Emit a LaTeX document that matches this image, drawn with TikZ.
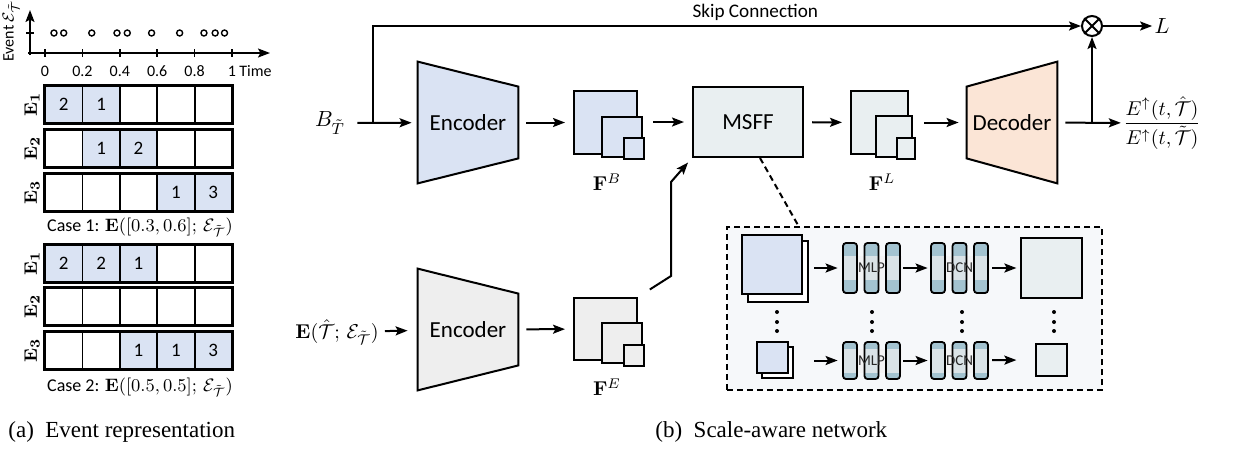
\documentclass[tikz,border=0pt]{standalone}
\usepackage{amsmath}
\usepackage{amssymb}
\usepackage[no-math]{fontspec}
\setmainfont{Carlito}
\newfontfamily\capfont{Liberation Serif}
\usetikzlibrary{arrows.meta,backgrounds,positioning}

\definecolor{encblue}{HTML}{DAE3F3}
\definecolor{encgray}{HTML}{EEEEEE}
\definecolor{decpeach}{HTML}{FBE5D6}
\definecolor{fusecyan}{HTML}{E9EFF1}
\definecolor{barteal}{HTML}{A3C3D0}
\definecolor{zoombg}{HTML}{F6F8FA}

\tikzset{
  arr/.style={-{Stealth[length=6pt,width=4.5pt,inset=1.2pt]}, line width=1pt},
  gap/.style={shorten <=#1, shorten >=#1},
  gap/.default=4pt,
  fmap/.style={draw, line width=1pt, inner sep=0pt},
  cell/.style={draw, line width=0.9pt, inner sep=0pt, minimum width=18.7pt,
    minimum height=18.5pt, font=\fontsize{9.5}{11}\selectfont},
  coder/.style={inner sep=0pt, font=\fontsize{11.5}{13}\selectfont},
  trap/.style={draw, line width=1pt},
  mathlab/.style={inner sep=1pt, font=\fontsize{10}{12}\selectfont},
  ticklab/.style={inner sep=0pt, font=\fontsize{8}{9}\selectfont},
  bar/.style={draw, line width=0.9pt, rounded corners=1.5pt},
  zoomdash/.style={line width=1pt, dash pattern=on 3pt off 2pt},
  caption/.style={anchor=west, inner sep=0pt, font=\capfont\fontsize{11.5}{13}\selectfont}
}

\begin{document}
\begin{tikzpicture}[x=0.5pt, y=-0.5pt]
\useasboundingbox (0,0) rectangle (1252,451);

% (a) event axis
\draw[arr, line width=0.8pt] (30,55) -- (30,10);
\draw[arr, line width=0.8pt] (28,53) -- (270,53);
\draw[line width=0.8pt] (26,33) -- (34,33);
\foreach \tm in {0,0.2,0.4,0.6,0.8,1}
  \draw[line width=0.8pt] (45+187*\tm,49) -- (45+187*\tm,57) node[ticklab, below=4pt] {\tm};
\node[ticklab, anchor=west] (timelab) at (239,71) {Time};
\node[ticklab, rotate=90] (evlab) at (11,31) {Event $\mathcal{E}_{\tilde{\mathcal{T}}}$};
\foreach \tm in {0.048,0.10,0.25,0.385,0.44,0.57,0.72,0.85,0.91,0.96}
  \draw[line width=0.7pt] (45+187*\tm,33) circle (1.5pt);

% (a) event grids
\foreach \rowy/\vals/\ei in {86/{2,1,0,0,0}/1,130/{0,1,2,0,0}/2,174/{0,0,0,1,3}/3,
                             245/{2,2,1,0,0}/1,288/{0,0,0,0,0}/2,332/{0,0,1,1,3}/3}{
  \node[rotate=90, inner sep=0pt, font=\fontsize{9.5}{11}\selectfont] (lab\rowy) at (32,\rowy+18.5) {$\mathbf{E_{\ei}}$};
  \foreach \cv [count=\ci] in \vals {
    \ifnum\cv>0
      \node[cell, fill=encblue] (c\rowy-\ci) at (45+37.4*\ci-18.7,\rowy+18.5) {\cv};
    \else
      \node[cell] (c\rowy-\ci) at (45+37.4*\ci-18.7,\rowy+18.5) {};
    \fi
  }
  \draw[line width=1.3pt] (c\rowy-1.north west) rectangle (c\rowy-5.south east);
}
\node[font=\fontsize{9}{11}\selectfont] (case1) at (140,227) {Case 1: $\mathbf{E}([0.3,0.6];\,\mathcal{E}_{\tilde{\mathcal{T}}})$};
\node[font=\fontsize{9}{11}\selectfont] (case2) at (140,387) {Case 2: $\mathbf{E}([0.5,0.5];\,\mathcal{E}_{\tilde{\mathcal{T}}})$};

% (b) top stream
\node[mathlab, font=\fontsize{11}{13}\selectfont] (inB) at (330,123) {$B_{\tilde{T}}$};
\node[coder, minimum width=50pt, minimum height=60.5pt] (encB) at (468,122.5) {Encoder};
\node[fmap, fill=encblue, minimum size=31.5pt] (fB) at (605.5,122.5) {};
\node[fmap, fill=encblue, minimum size=20pt] (fBm) at (622,136.5) {};
\node[fmap, fill=encblue, minimum width=10pt, minimum height=10.5pt] (fBs) at (634,148.5) {};
\node[mathlab] (fBlab) at (607,182) {$\mathbf{F}^B$};
\node[fmap, fill=fusecyan, minimum width=55pt, minimum height=35pt, font=\fontsize{11.5}{13}\selectfont] (msff) at (748,122) {MSFF};
\node[fmap, fill=fusecyan, minimum width=28.5pt, minimum height=31.5pt] (fL) at (879.5,122.5) {};
\node[fmap, fill=fusecyan, minimum width=18pt, minimum height=20.5pt] (fLm) at (894,136.5) {};
\node[fmap, fill=fusecyan, minimum width=9pt, minimum height=10.5pt] (fLs) at (906,148.5) {};
\node[mathlab] (fLlab) at (882,182) {$\mathbf{F}^L$};
\node[coder, minimum width=45pt, minimum height=60.5pt] (dec) at (1012,122.5) {Decoder};
\node[mathlab] (out) at (1162,123) {$\dfrac{E^{\uparrow}(t,\hat{\mathcal{T}})}{E^{\uparrow}(t,\tilde{\mathcal{T}})}$};
\node[circle, draw, line width=1pt, minimum size=10pt, inner sep=0pt] (mul) at (1092,26) {};
\draw[line width=1pt] (mul.north west) -- (mul.south east) (mul.north east) -- (mul.south west);
\node[mathlab, font=\fontsize{11}{13}\selectfont] (outL) at (1162,26) {$L$};

% (b) bottom stream
\node[mathlab] (inE) at (337,332) {$\mathbf{E}(\hat{\mathcal{T}};\,\mathcal{E}_{\tilde{\mathcal{T}}})$};
\node[coder, minimum width=50pt, minimum height=60.5pt] (encE) at (468,329.5) {Encoder};
\node[fmap, fill=encgray, minimum width=31.5pt, minimum height=31pt] (fE) at (605.5,329) {};
\node[fmap, fill=encgray, minimum size=20pt] (fEm) at (622,343) {};
\node[fmap, fill=encgray, minimum width=10pt, minimum height=10.5pt] (fEs) at (634,355.5) {};
\node[mathlab] (fElab) at (607,387) {$\mathbf{F}^E$};

\begin{scope}[on background layer]
\draw[trap, fill=encblue] (encB.north west) -- ([yshift=-12.5pt]encB.north east)
  -- ([yshift=12.5pt]encB.south east) -- (encB.south west) -- cycle;
\draw[trap, fill=encgray] (encE.north west) -- ([yshift=-12.5pt]encE.north east)
  -- ([yshift=12.5pt]encE.south east) -- (encE.south west) -- cycle;
\draw[trap, fill=decpeach] ([yshift=-12.5pt]dec.north west) -- (dec.north east)
  -- (dec.south east) -- ([yshift=12.5pt]dec.south west) -- cycle;
\end{scope}

% connectors
\coordinate (skip) at (373,123);
\coordinate (branch) at (mul |- out);
\draw[arr, shorten <=5pt, shorten >=3pt] (inB) -- (encB);
\draw[arr] (skip) |- node[pos=0.77, above, inner sep=2pt, font=\fontsize{9.6}{11}\selectfont] {Skip Connection} (mul);
\draw[arr, gap] (encB) -- (fB);
\draw[arr, gap] (fBs.east |- msff) -- (msff);
\draw[arr, gap] (msff) -- (fL);
\draw[arr, gap] (fLs.east |- dec) -- (dec);
\draw[arr, shorten <=4pt] (dec) -- (out);
\draw[arr] (branch) -- (mul);
\draw[arr] (mul) -- (outL);
\draw[arr, shorten <=2pt, shorten >=5pt] (inE) -- (encE);
\draw[arr, gap] (encE) -- (fE);
\draw[arr, shorten <=7pt, shorten >=3pt] (fE.north east) -- (671,276) -- (671,182) -- (msff.south west);

% MSFF detail
\node[draw, zoomdash, fill=zoombg, minimum width=187.5pt, minimum height=81.5pt] (zoom) at (914.5,308.5) {};
\draw[zoomdash] ([xshift=6pt]msff.south) -- ([xshift=-58pt]zoom.north);
\node[fmap, fill=white, minimum width=30pt, minimum height=30.5pt] (z1b) at (778,271.5) {};
\node[fmap, fill=encblue, minimum width=30pt, minimum height=29.5pt] (z1) at (772,264.5) {};
\node[fmap, fill=white, minimum size=15.5pt] (z2b) at (777.5,362.5) {};
\node[fmap, fill=encblue, minimum size=15.5pt] (z2) at (772.5,357.5) {};
\foreach \nm/\cx/\cy/\h/\txt in {mlp1/871.5/268/50/MLP, dcn1/959.5/268/50/DCN,
                                 mlp2/871.5/360.5/37/MLP, dcn2/959.5/360.5/37/DCN}{
  \foreach \dx in {-21.5,0,21.5}
    \fill[barteal] (\cx+\dx-7,\cy-\h/2) rectangle (\cx+\dx+7,\cy+\h/2);
  \fill[white!90!gray, opacity=0.7] (\cx-30,\cy-12) rectangle (\cx+30,\cy+12);
  \foreach \dx in {-21.5,0,21.5}
    \draw[bar] (\cx+\dx-7,\cy-\h/2) rectangle (\cx+\dx+7,\cy+\h/2);
  \node[inner sep=0pt, minimum width=28.5pt, minimum height=\h*0.5pt, font=\fontsize{7.5}{8}\selectfont, text=black!85] (\nm) at (\cx,\cy) {\txt};
}
\node[fmap, fill=fusecyan, minimum width=30.5pt, minimum height=30pt] (zo1) at (1051.5,268) {};
\node[fmap, fill=fusecyan, minimum width=15.5pt, minimum height=16pt] (zo2) at (1051.5,360) {};
\draw[arr, gap=2.5pt] (z1b.east |- mlp1) -- (mlp1);
\draw[arr, gap=2.5pt] (z1b.east |- mlp2) -- (mlp2);
\draw[arr, gap=1.5pt] (mlp1) -- (dcn1);
\draw[arr, gap=1.5pt] (mlp2) -- (dcn2);
\draw[arr, gap=1.8pt] (dcn1) -- (zo1);
\draw[arr, gap=1.8pt] (dcn2) -- (zo2 -| zo1.west);
\foreach \dx in {777,872,962,1054}
  \foreach \dy in {312,322,331}
    \fill (\dx,\dy) circle (1pt);

% captions
\node[caption] (capa) at (8,432) {(a)\ \ Event representation};
\node[caption] (capb) at (655,432) {(b)\ \ Scale-aware network};
\end{tikzpicture}
\end{document}
